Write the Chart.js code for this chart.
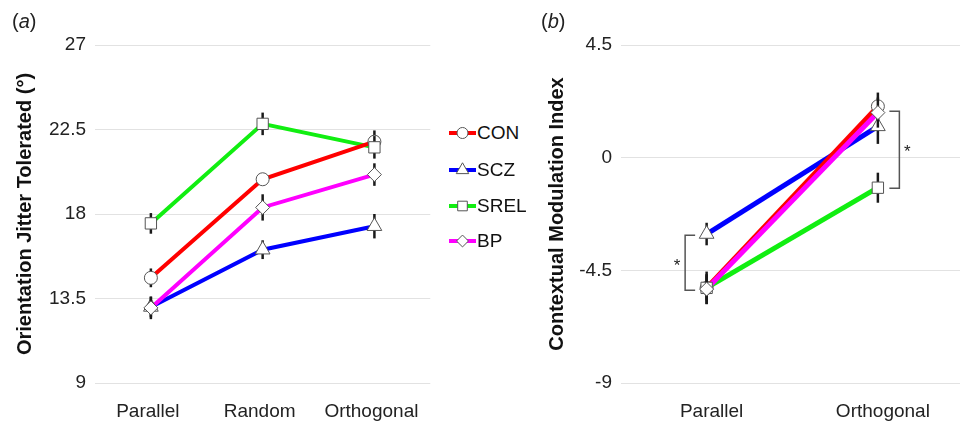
<!DOCTYPE html>
<html><head><meta charset="utf-8">
<script src="https://cdn.jsdelivr.net/npm/chart.js@4.4.0/dist/chart.umd.min.js"></script>
<style>
html,body{margin:0;padding:0;background:#fff;overflow:hidden;font-family:"Liberation Sans",Arial,sans-serif;}
#ca{position:absolute;left:0;top:0;}
#cb{position:absolute;left:530px;top:0;}
.pl{position:absolute;font-size:20px;color:#222;line-height:24px;}
.li{position:absolute;left:449px;height:24px;display:flex;align-items:center;font-size:19px;color:#111;}
.li canvas{margin-right:1px;}
</style></head><body>
<canvas id="ca" width="440" height="421"></canvas>
<canvas id="cb" width="443" height="421"></canvas>
<div class="pl" style="left:12px;top:9px;">(<i>a</i>)</div>
<div class="pl" style="left:541px;top:9px;">(<i>b</i>)</div>
<div id="legend"></div>
<script>
// ---------- data ----------
const groups = ['CON', 'SCZ', 'SREL', 'BP'];

const catsA = ['Parallel', 'Random', 'Orthogonal'];
const conA  = [14.6, 19.85, 21.85];
const sczA  = [13.05, 16.1, 17.35];
const srelA = [17.5, 22.8, 21.55];
const bpA   = [13.0, 18.35, 20.1];
const conAErr  = [0.5, 0.3, 0.6];
const sczAErr  = [0.55, 0.5, 0.65];
const srelAErr = [0.55, 0.6, 0.6];
const bpAErr   = [0.6, 0.7, 0.6];
const ticksA = [9, 13.5, 18, 22.5, 27];

const catsB = ['Parallel', 'Orthogonal'];
const conB  = [-5.2, 2.05];
const sczB  = [-3.05, 1.25];
const srelB = [-5.2, -1.2];
const bpB   = [-5.25, 1.8];
const conBErr  = [0.65, 0.55];
const sczBErr  = [0.45, 0.7];
const srelBErr = [0.5, 0.6];
const bpBErr   = [0.6, 0.6];
const ticksB = [-9, -4.5, 0, 4.5];

const bracketsB = [
  {cat: 0, from: -3.1, to: -5.3, label: '*'},
  {cat: 1, from: 1.85, to: -1.22, label: '*'}
];

// ---------- styles ----------
const colors  = ['#ff0000', '#0000ff', '#11ee11', '#ff00ff'];
const markers = ['circle', 'triangle', 'rect', 'rectRot'];
const radii   = [6.5, 8.5, 8, 7];
const lineOrder  = [11, 12, 13, 10];
const pointOrder = [2, 3, 1, 0];
const FONT = "'Liberation Sans', Arial, sans-serif";
Chart.defaults.font.family = FONT;
Chart.defaults.color = '#222';

function buildDatasets(vals, errs, lw) {
  const out = [];
  groups.forEach((g, i) => {
    out.push({label: g, data: vals[i], borderColor: colors[i], borderWidth: lw,
      pointRadius: 0, pointHoverRadius: 0, order: lineOrder[i], tension: 0, fill: false});
    out.push({label: g + ' pts', data: vals[i], errors: errs[i], showLine: false,
      pointStyle: markers[i], pointRadius: radii[i], pointHoverRadius: radii[i],
      pointBackgroundColor: '#fff', pointBorderColor: '#555', pointBorderWidth: 1,
      order: pointOrder[i]});
  });
  return out;
}

const errorBarPlugin = {
  id: 'errbars',
  beforeDatasetDraw(chart, args) {
    const ds = chart.data.datasets[args.index];
    if (!ds.errors) return;
    const ctx = chart.ctx, y = chart.scales.y;
    const meta = chart.getDatasetMeta(args.index);
    ctx.save();
    ctx.strokeStyle = '#1a1a1a';
    ctx.lineWidth = 2.5;
    meta.data.forEach((el, j) => {
      const v = ds.data[j], e = ds.errors[j];
      ctx.beginPath();
      ctx.moveTo(el.x, y.getPixelForValue(v + e));
      ctx.lineTo(el.x, y.getPixelForValue(v - e));
      ctx.stroke();
    });
    ctx.restore();
  }
};

const bracketPlugin = {
  id: 'brackets',
  afterDatasetsDraw(chart) {
    if (chart.canvas.id !== 'cb') return;
    const ctx = chart.ctx, x = chart.scales.x, y = chart.scales.y;
    ctx.save();
    ctx.strokeStyle = '#555'; ctx.lineWidth = 1.5;
    ctx.fillStyle = '#222'; ctx.font = '17px ' + FONT;
    ctx.textAlign = 'center'; ctx.textBaseline = 'middle';
    bracketsB.forEach(b => {
      const s = b.cat === 0 ? -1 : 1;
      const cx = x.getPixelForValue(b.cat);
      const xv = cx + s * 21.5, xt = xv - s * 10;
      const y1 = y.getPixelForValue(b.from), y2 = y.getPixelForValue(b.to);
      ctx.beginPath();
      ctx.moveTo(xt, y1); ctx.lineTo(xv, y1); ctx.lineTo(xv, y2); ctx.lineTo(xt, y2);
      ctx.stroke();
      ctx.fillText(b.label, xv + s * 8, (y1 + y2) / 2 + 3);
    });
    ctx.restore();
  }
};

function makeChart(id, cats, vals, errs, ticks, minV, maxV, title, lw, yw, titlePad, labelOffset) {
  return new Chart(document.getElementById(id), {
    type: 'line',
    data: {labels: cats, datasets: buildDatasets(vals, errs, lw)},
    plugins: [errorBarPlugin, bracketPlugin],
    options: {
      responsive: false, animation: false,
      layout: {padding: {top: 45, right: 0, left: 0, bottom: 0}},
      plugins: {legend: {display: false}, tooltip: {enabled: false}},
      scales: {
        x: {
          type: 'category', offset: true,
          grid: {display: false, drawTicks: false}, border: {display: false},
          ticks: {font: {size: 19}, color: '#222', padding: 17, labelOffset: labelOffset, maxRotation: 0},
          afterFit: s => { s.height = 38; }
        },
        y: {
          min: minV, max: maxV,
          afterBuildTicks: s => { s.ticks = ticks.map(v => ({value: v})); },
          grid: {color: '#e2e2e2', lineWidth: 1, drawTicks: false}, border: {display: false},
          ticks: {font: {size: 19}, color: '#222', padding: 9},
          title: {display: true, text: title, font: {size: 20, weight: 'bold'}, color: '#111',
                  padding: {top: titlePad, bottom: 0}},
          afterFit: s => { s.width = yw; }
        }
      }
    }
  });
}

makeChart('ca', catsA, [conA, sczA, srelA, bpA], [conAErr, sczAErr, srelAErr, bpAErr],
  ticksA, 9, 27, 'Orientation Jitter Tolerated (°)', 4, 95, 13, -3);
makeChart('cb', catsB, [conB, sczB, srelB, bpB], [conBErr, sczBErr, srelBErr, bpBErr],
  ticksB, -9, 4.5, 'Contextual Modulation Index', 5, 91, 15, 5);

// ---------- legend ----------
const legendTops = [121, 158, 194, 229];
const leg = document.getElementById('legend');
groups.forEach((g, i) => {
  const item = document.createElement('div');
  item.className = 'li';
  item.style.top = legendTops[i] + 'px';
  const c = document.createElement('canvas');
  c.width = 27; c.height = 20;
  const cx = c.getContext('2d');
  cx.strokeStyle = colors[i]; cx.lineWidth = 4;
  cx.beginPath(); cx.moveTo(0, 10); cx.lineTo(27, 10); cx.stroke();
  cx.fillStyle = '#fff'; cx.strokeStyle = '#555'; cx.lineWidth = 1;
  Chart.helpers.drawPoint(cx, {pointStyle: markers[i], radius: radii[i] * 0.85, borderWidth: 1}, 13.5, 10);
  item.appendChild(c);
  const t = document.createElement('span');
  t.textContent = g;
  item.appendChild(t);
  leg.appendChild(item);
});
</script>
</body></html>
